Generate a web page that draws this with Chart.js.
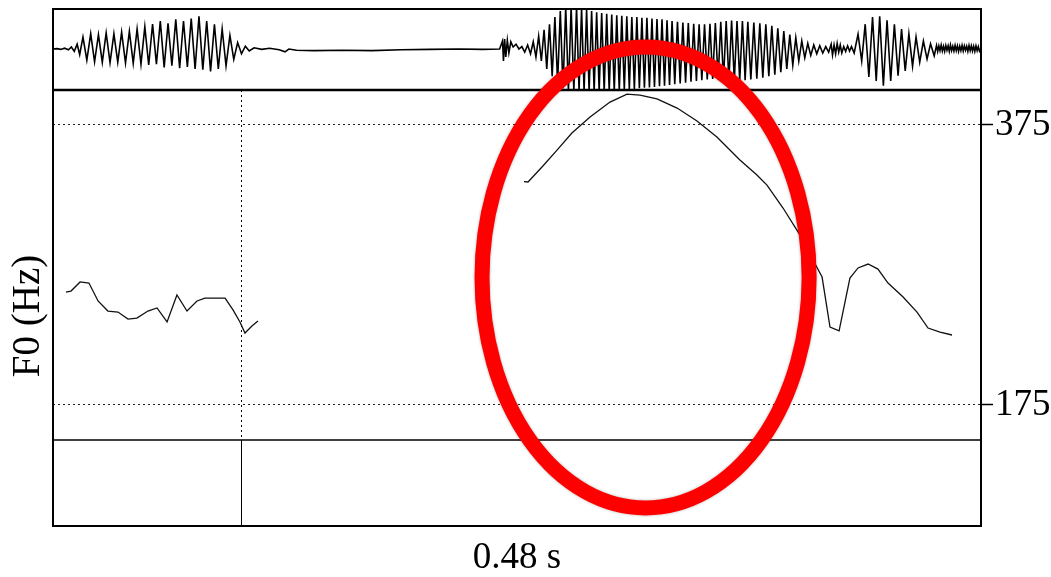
<!DOCTYPE html>
<html>
<head>
<meta charset="utf-8">
<script src="https://cdn.jsdelivr.net/npm/chart.js@4.4.0/dist/chart.umd.min.js"></script>
<style>
  html, body { margin: 0; padding: 0; background: #fff; }
  canvas { display: block; }
</style>
</head>
<body>
<canvas id="f0Chart" width="1051" height="577"></canvas>
<script>
// time in ms, visible window 0.48 s
var timeRange = [0, 480];
var boundaryTimes = [97.2];

// F0 contour: ms / Hz (null = unvoiced)
var pitchTimes = [6.7, 9.3, 14.0, 18.6, 23.3, 28.4, 33.6, 38.8, 43.4, 49.1, 53.8, 59.0, 64.1, 69.3, 74.5, 78.6, 89.0, 93.1, 96.7, 99.3, 102.9, 106.0,
  170,
  243.6, 245.7, 253.4, 260.7, 268.4, 277.8, 288.1, 296.9, 303.6, 312.4, 322.8, 333.1, 343.4, 355.3, 364.1, 369.3, 377.6, 386.4, 393.1, 397.8,
  401.9, 406.6, 412.2, 416.4, 421.6, 426.7, 431.9, 439.7, 446.9, 452.6, 458.8, 465.0];
var pitchHz = [255.7, 256.4, 262.9, 262.1, 249.3, 242.1, 241.4, 236.4, 237.1, 242.1, 244.3, 234.3, 253.6, 242.1, 249.3, 251.4, 251.4, 242.9, 234.3, 226.4, 231.4, 235.0,
  null,
  334.5, 334.3, 345.7, 357.1, 369.3, 380.7, 391.4, 397.1, 396.4, 393.6, 387.1, 377.9, 366.4, 350.0, 339.3, 332.1, 315.7, 296.4, 278.6, 266.4,
  230.7, 227.9, 265.7, 272.9, 275.7, 272.1, 262.1, 252.1, 241.4, 230.0, 227.1, 225.0];

// waveform extremes (ms / relative amplitude)
var waveTimes = [0, 2, 4, 6, 8, 9.5, 11, 12.5, 13.8,
  15.5, 17.5, 19.5, 21.5, 23.5, 25.5, 27.5, 29.5, 31.5, 33.5, 35.5, 37.5, 39.5, 41.5, 43.5, 45.5, 47.5, 49.5, 51.5, 53.5, 55.5, 57.5,
  59.5, 61.5, 63.5, 65.5, 67.5, 69.5, 71.5, 73.5, 75.5, 77.5, 79.5, 81.5, 83.5, 85.5, 87.5, 89.5, 91.5, 93.5, 95.5, 97.5, 99.5, 101.5,
  104, 108, 112, 117, 120, 122, 126, 135, 150, 165, 180, 195, 210, 222, 231,
  232.5, 233, 233.6, 234.2, 235, 235.8, 236.8, 238, 239.5, 241, 242.5, 244, 245.5, 247,
  248.4, 249.8, 251.2, 252.6, 254.0, 255.4, 256.8, 258.2, 259.6, 261.0, 262.4, 263.8, 265.2, 266.6, 268.0, 269.4,
  270.8, 272.1, 273.4, 274.7, 276.0, 277.3, 278.6, 279.9, 281.2, 282.5, 283.8, 285.1, 286.4, 287.7, 289.0, 290.3, 291.6, 292.9, 294.2,
  295.5, 296.8, 298.1, 299.4, 300.7, 302.0, 303.3, 304.6, 305.9, 307.2, 308.5, 309.8, 311.1, 312.4, 313.7, 315.0, 316.3, 317.6, 318.9,
  320.2, 321.6, 323.0, 324.4, 325.8, 327.2, 328.6, 330.0, 331.4, 332.8, 334.2, 335.6, 337.0, 338.4, 339.8, 341.2, 342.6, 344.0,
  345.4, 346.8, 348.2, 349.6, 351.0, 352.4, 353.8, 355.2, 356.6, 358.0,
  359.4, 360.95, 362.5, 364.05, 365.6, 367.15, 368.7, 370.25, 371.8, 373.35, 374.9, 376.45, 378.0, 379.55, 381.1, 382.65, 384.2, 385.75,
  387.3, 388.85, 390.4, 391.95, 393.5, 395.05, 396.6, 398.15, 399.7, 401.2,
  402.5, 403.2, 404, 404.8, 405.6, 406.4, 407.2, 408, 409, 410, 411, 412, 413, 414.4,
  416.4, 418.3, 420.1, 422.0, 423.9, 425.8, 427.6, 429.5, 431.4, 433.3, 435.2, 437.1, 438.9, 440.8, 442.7, 444.6, 446.4, 448.3, 450.2, 452.1, 453.9, 455.8,
  457.0, 457.6, 458.2, 458.8, 459.4, 460.0, 460.6, 461.2, 461.8, 462.4, 463.0, 463.6, 464.2, 464.8, 465.4, 466.0, 466.6, 467.2, 467.8, 468.4,
  469.0, 469.6, 470.2, 470.8, 471.4, 472.0, 472.6, 473.2, 473.8, 474.4, 475.0, 475.6, 476.2, 476.8, 477.4, 478.0, 478.6, 479.2, 480];
var waveAmps = [0, 0.01, -0.01, 0.02, -0.02, 0.05, -0.06, 0.12, -0.14,
  0.30, -0.28, 0.38, -0.32, 0.36, -0.33, 0.40, -0.34, 0.38, -0.33, 0.42, -0.35, 0.44, -0.36, 0.50, -0.38, 0.56, -0.40, 0.62, -0.38, 0.70, -0.46,
  0.64, -0.42, 0.74, -0.48, 0.70, -0.45, 0.76, -0.50, 0.82, -0.52, 0.70, -0.56, 0.62, -0.50, 0.50, -0.42, 0.34, -0.26, 0.16, -0.12, 0.07, -0.05,
  0.03, -0.01, 0.02, -0.02, -0.07, 0.0, -0.03, -0.04, -0.03, -0.04, -0.02, -0.01, 0.0, -0.01, 0.0,
  0.2, -0.3, 0.25, -0.2, 0.22, -0.1, 0.18, 0.05, 0.12, 0.0, 0.06, -0.08, 0.1, -0.12,
  0.18, -0.2, 0.32, -0.3, 0.48, -0.5, 0.62, -0.68, 0.8, -0.85, 0.95, -0.98, 1.05, -1.05, 1.05, -1.05,
  1.05, -1.05, 1.02, -1.05, 0.98, -1.05, 0.95, -1.05, 0.92, -1.05, 0.9, -1.05, 0.88, -1.05, 0.86, -1.05, 0.84, -1.04, 0.83,
  -1.02, 0.82, -1.0, 0.8, -1.0, 0.8, -0.98, 0.78, -0.97, 0.78, -0.96, 0.76, -0.95, 0.75, -0.93, 0.74, -0.92, 0.72, -0.9,
  0.7, -0.88, 0.68, -0.86, 0.66, -0.84, 0.65, -0.82, 0.63, -0.8, 0.62, -0.78, 0.62, -0.76, 0.63, -0.75, 0.65, -0.76,
  0.68, -0.78, 0.7, -0.8, 0.71, -0.8, 0.7, -0.8, 0.7, -0.78,
  0.68, -0.76, 0.66, -0.74, 0.64, -0.72, 0.62, -0.68, 0.58, -0.64, 0.52, -0.58, 0.45, -0.5, 0.36, -0.4, 0.28, -0.3,
  0.2, -0.22, 0.14, -0.16, 0.1, -0.12, 0.08, -0.1, 0.06, -0.08,
  0.12, -0.15, 0.1, -0.12, 0.14, -0.08, 0.1, -0.1, 0.06, -0.06, 0.08, -0.05, 0.06, -0.1,
  0.37, -0.3, 0.62, -0.7, 0.8, -0.8, 0.82, -0.92, 0.72, -0.8, 0.62, -0.67, 0.5, -0.55, 0.38, -0.43, 0.3, -0.33, 0.2, -0.25, 0.13, -0.17,
  0.09, -0.06, 0.08, -0.04, 0.1, -0.05, 0.07, -0.06, 0.09, -0.03, 0.08, -0.06, 0.1, -0.04, 0.07, -0.05, 0.09, -0.04, 0.08, -0.06,
  0.07, -0.04, 0.09, -0.05, 0.08, -0.03, 0.07, -0.06, 0.09, -0.04, 0.08, -0.05, 0.07, -0.06, 0.08, -0.04, 0.06, -0.05, 0.02];

var pitchTicks = [175, 375];
var pitchPanel = [150, 400];        // Hz limits of the F0 panel
var circleCentre = [306.5, 266.1];  // ms, Hz
var circleRadius = [84.6, 164.6];   // ms, Hz

function toPoints(xs, ys) {
    var pts = [];
    for (var i = 0; i < Math.min(xs.length, ys.length); i++) {
        pts.push({ x: xs[i], y: ys[i] });
    }
    return pts;
}

var serif = "'Liberation Serif', 'Times New Roman', serif";

var praatFrame = {
    id: 'praatFrame',
    afterDatasetsDraw: function(chart) {
        var ctx = chart.ctx, a = chart.chartArea;
        var xs = chart.scales.x, yp = chart.scales.yPitch;
        var yTop = yp.getPixelForValue(pitchPanel[1]);
        var yLow = yp.getPixelForValue(pitchPanel[0]);
        ctx.save();
        ctx.strokeStyle = '#000';
        boundaryTimes.forEach(function(t) {
            var bx = Math.round(xs.getPixelForValue(t)) + 0.5;
            ctx.lineWidth = 1;
            ctx.setLineDash([2, 3]);
            ctx.beginPath(); ctx.moveTo(bx, yTop); ctx.lineTo(bx, yLow); ctx.stroke();
            ctx.setLineDash([]);
            ctx.beginPath(); ctx.moveTo(bx, yLow); ctx.lineTo(bx, a.bottom); ctx.stroke();
        });
        ctx.lineWidth = 1.5;
        ctx.beginPath(); ctx.moveTo(a.left, yLow); ctx.lineTo(a.right, yLow); ctx.stroke();
        ctx.lineWidth = 2.5;
        ctx.beginPath(); ctx.moveTo(a.left, yTop); ctx.lineTo(a.right, yTop); ctx.stroke();
        ctx.lineWidth = 2;
        ctx.strokeRect(a.left, a.top, a.right - a.left, a.bottom - a.top);

        // red annotation ring
        var cx = xs.getPixelForValue(circleCentre[0]);
        var cy = yp.getPixelForValue(circleCentre[1]);
        var rx = xs.getPixelForValue(circleCentre[0] + circleRadius[0]) - cx;
        var ry = cy - yp.getPixelForValue(circleCentre[1] + circleRadius[1]);
        ctx.shadowColor = 'rgba(0,0,0,0.3)';
        ctx.shadowBlur = 3;
        ctx.strokeStyle = '#ff0000';
        ctx.lineWidth = 15;
        ctx.beginPath();
        ctx.ellipse(cx, cy, rx, ry, 0, 0, Math.PI * 2);
        ctx.stroke();
        ctx.restore();

        // left axis label
        ctx.save();
        ctx.translate(29, 316);
        ctx.rotate(-Math.PI / 2);
        ctx.font = '39px ' + serif;
        ctx.fillStyle = '#000';
        ctx.textAlign = 'center';
        ctx.textBaseline = 'middle';
        ctx.fillText('F0 (Hz)', 0, 0);
        ctx.restore();
    }
};

var f0Chart = new Chart(document.getElementById('f0Chart'), {
    type: 'line',
    data: {
        datasets: [{
            label: 'waveform',
            data: toPoints(waveTimes, waveAmps),
            yAxisID: 'yWave',
            borderColor: '#000',
            borderWidth: 1.6,
            pointRadius: 0,
            tension: 0
        }, {
            label: 'F0',
            data: toPoints(pitchTimes, pitchHz),
            yAxisID: 'yPitch',
            borderColor: '#111',
            borderWidth: 1.3,
            pointRadius: 0,
            tension: 0,
            spanGaps: false
        }]
    },
    options: {
        responsive: false,
        animation: false,
        events: [],
        layout: { autoPadding: false, padding: { top: 9, left: 53, right: 0, bottom: 0 } },
        plugins: { legend: { display: false }, tooltip: { enabled: false } },
        scales: {
            x: {
                type: 'linear',
                min: timeRange[0],
                max: timeRange[1],
                ticks: { display: false },
                grid: { display: false },
                border: { display: false },
                title: {
                    display: true,
                    text: '0.48 s',
                    color: '#000',
                    padding: 0,
                    font: { family: serif, size: 37, lineHeight: 1.0 }
                },
                afterFit: function(s) { s.height = 51; }
            },
            yWave: {
                type: 'linear',
                display: false,
                min: -11.925,
                max: 1.0
            },
            yPitch: {
                type: 'linear',
                position: 'right',
                min: 88.571,
                max: 457.857,
                afterBuildTicks: function(s) {
                    s.ticks = pitchTicks.map(function(v) { return { value: v }; });
                },
                ticks: {
                    color: '#000',
                    padding: 2,
                    // small lineHeight keeps the label box from padding the plot top
                    font: { family: serif, size: 37, lineHeight: 0.3 },
                    callback: function(v) { return String(v); }
                },
                grid: {
                    color: '#222',
                    lineWidth: 1,
                    tickLength: 12,
                    tickColor: '#000',
                    tickWidth: 1.5,
                    tickBorderDash: []
                },
                border: { display: false, dash: [2, 3] },
                afterFit: function(s) { s.width = 70; }
            }
        }
    },
    plugins: [praatFrame]
});
</script>
</body>
</html>
